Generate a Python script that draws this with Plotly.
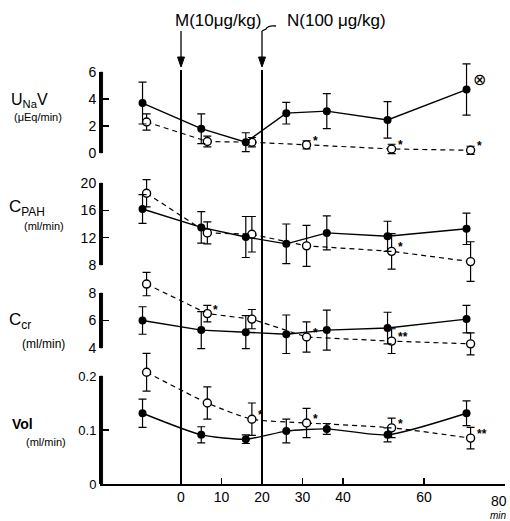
import plotly.graph_objects as go

# ---------------- data ----------------
x_solid = [-9.5, 5, 16, 26, 36, 51, 70.5]
x_open = [-8.5, 6.5, 17.5, 31, 52, 71.5]

unav_solid = [3.7, 1.8, 0.8, 2.95, 3.1, 2.45, 4.7]
unav_solid_err = [1.55, 1.1, 0.7, 0.8, 1.3, 1.35, 1.9]
unav_open = [2.3, 0.85, 0.8, 0.6, 0.3, 0.2]
unav_open_err = [0.6, 0.4, 0.35, 0.3, 0.35, 0.3]
unav_sig = ["", "", "", "*", "*", "*"]

cpah_solid = [16.2, 13.5, 12.1, 11.1, 12.7, 12.2, 13.3]
cpah_solid_err = [2.1, 2.3, 3.0, 2.9, 2.5, 2.2, 2.3]
cpah_open = [18.5, 12.7, 12.5, 10.8, 10.0, 8.5]
cpah_open_err = [2.0, 1.6, 2.6, 3.0, 2.6, 2.9]
cpah_sig = ["", "", "", "", "*", ""]

ccr_solid = [6.0, 5.3, 5.15, 5.0, 5.3, 5.45, 6.1]
ccr_solid_err = [1.0, 1.35, 1.2, 1.4, 1.45, 1.15, 1.0]
ccr_open = [8.65, 6.5, 6.1, 4.8, 4.5, 4.3]
ccr_open_err = [0.85, 0.6, 0.7, 1.1, 0.9, 0.8]
ccr_sig = ["", "*", "", "*", "**", ""]

vol_solid = [0.131, 0.091, 0.083, 0.098, 0.102, 0.091, 0.131]
vol_solid_err = [0.026, 0.015, 0.008, 0.022, 0.01, 0.013, 0.023]
vol_open = [0.207, 0.15, 0.12, 0.113, 0.104, 0.085]
vol_open_err = [0.035, 0.03, 0.03, 0.027, 0.018, 0.02]
vol_sig = ["", "", "*", "*", "*", "**"]

x_ticks = [0, 10, 20, 30, 40, 60, 80]
x_ticktext = ["0", "10", "20", "30", "40", "60", ""]
x_end_label = "80"
x_unit = "min"

dose_times = [0, 20]
dose_labels = ["M(10μg/kg)", "N(100 μg/kg)"]

# ---------------- layout helpers ----------------
W, H = 510, 521
ML, MR, MT, MB = 100, 5, 20, 37
PH = H - MT - MB
PW = W - ML - MR
X_RANGE = [-20, 80]


def py(p):  # pixel y -> paper
    return (H - MB - p) / PH


def px(p):  # pixel x -> paper
    return (p - ML) / PW


def xunits(pix):  # pixel width -> x data units
    return pix * (X_RANGE[1] - X_RANGE[0]) / PW


def rng(vb, vt, pb, pt):
    fb, ft = py(pb), py(pt)
    s = (vt - vb) / (ft - fb)
    return [vb - fb * s, vb + (1 - fb) * s]


def frac(v, r):
    return (v - r[0]) / (r[1] - r[0])


FONT = "Liberation Sans"
panels = [
    ("y4", "y8", unav_solid, unav_solid_err, unav_open, unav_open_err, unav_sig,
     [0, 2, 4, 6], ["0", "2", "4", "6"], rng(0, 6, 153, 72), "linear", 14),
    ("y3", "y7", cpah_solid, cpah_solid_err, cpah_open, cpah_open_err, cpah_sig,
     [8, 12, 16, 20], ["8", "12", "16", "20"], rng(8, 20, 265, 183), "linear", 14),
    ("y2", "y6", ccr_solid, ccr_solid_err, ccr_open, ccr_open_err, ccr_sig,
     [4, 6, 8], ["4", "6", "8"], rng(4, 8, 348, 293), "linear", 14),
    ("y", "y5", vol_solid, vol_solid_err, vol_open, vol_open_err, vol_sig,
     [0, 0.1, 0.2], ["0", "0.1", "0.2"], rng(0, 0.2, 484, 376), "spline", 13),
]

fig = go.Figure()
annotations = []
shapes = []

for ax, dax, ys, yse, yo, yoe, sig, tv, tt, r, lshape, tfs in panels:
    # spine of the panel axis over its tick span (trace + filled strip)
    fig.add_trace(go.Scatter(x=[X_RANGE[0] + xunits(1.5)] * 2, y=[min(tv), max(tv)], yaxis=ax,
                             mode="lines", line=dict(color="black", width=2.5),
                             showlegend=False, hoverinfo="skip"))
    shapes.append(dict(type="rect", xref="paper", yref="paper", layer="above",
                       x0=px(100.2), x1=px(102.6), y0=frac(min(tv), r), y1=frac(max(tv), r),
                       fillcolor="black", line=dict(color="black", width=0.5)))
    fig.add_trace(go.Scatter(
        x=x_open, y=yo, yaxis=ax, mode="lines+markers",
        line=dict(color="black", width=1.2, dash="5px,4px", shape=lshape, smoothing=0.6),
        marker=dict(symbol="circle", size=8, color="white", line=dict(color="black", width=1.4)),
        error_y=dict(type="data", array=yoe, color="black", thickness=1.2, width=4),
        showlegend=False, cliponaxis=False, hoverinfo="skip"))
    fig.add_trace(go.Scatter(
        x=x_solid, y=ys, yaxis=ax, mode="lines+markers",
        line=dict(color="black", width=1.4, shape=lshape, smoothing=0.6),
        marker=dict(symbol="circle", size=8, color="black"),
        error_y=dict(type="data", array=yse, color="black", thickness=1.2, width=4),
        showlegend=False, cliponaxis=False, hoverinfo="skip"))
    fig.add_trace(go.Scatter(x=[], y=[], yaxis=dax, mode="markers",
                             showlegend=False, hoverinfo="skip"))
    for xi, yi, s in zip(x_open, yo, sig):
        if s:
            annotations.append(dict(x=xi, y=yi, xref="x", yref=ax, text="<b>" + s + "</b>",
                                    showarrow=False, xanchor="left", yanchor="middle",
                                    xshift=4, yshift=4,
                                    font=dict(size=12, color="black", family=FONT)))

annotations.append(dict(x=x_solid[-1], y=unav_solid[-1], xref="x", yref="y4", text="⊗",
                        showarrow=False, xanchor="left", yanchor="middle", xshift=4, yshift=10,
                        font=dict(size=16, color="black", family=FONT)))

for t in dose_times:
    shapes.append(dict(type="line", xref="x", yref="paper", x0=t, x1=t, y0=0, y1=py(70),
                       line=dict(color="black", width=2)))
    shapes.append(dict(type="line", xref="x", yref="paper", x0=t, x1=t, y0=py(60), y1=py(31),
                       line=dict(color="black", width=1.3)))
    dx = xunits(3.5)
    shapes.append(dict(type="path", xref="x", yref="paper",
                       path=f"M {t - dx},{py(57)} L {t + dx},{py(57)} L {t},{py(67)} Z",
                       fillcolor="black", line=dict(color="black", width=1)))

annotations.append(dict(x=px(218), y=py(20), xref="paper", yref="paper", text=dose_labels[0],
                        showarrow=False, xanchor="center", yanchor="middle",
                        font=dict(size=17, color="black", family=FONT)))
annotations.append(dict(x=px(336), y=py(20), xref="paper", yref="paper", text=dose_labels[1],
                        showarrow=False, xanchor="center", yanchor="middle",
                        font=dict(size=17, color="black", family=FONT)))
shapes.append(dict(type="path", xref="paper", yref="paper",
                   path=f"M {px(276)},{py(26)} Q {px(268)},{py(25)} {px(266)},{py(29)} L {px(262)},{py(31)}",
                   line=dict(color="black", width=1.3)))

annotations.append(dict(x=px(509), y=py(501), xref="paper", yref="paper", text=x_end_label,
                        showarrow=False, xanchor="right", yanchor="middle",
                        font=dict(size=14, color="black", family=FONT)))
annotations.append(dict(x=px(509), y=py(515), xref="paper", yref="paper",
                        text="<i>" + x_unit + "</i>",
                        showarrow=False, xanchor="right", yanchor="middle",
                        font=dict(size=10, color="black", family=FONT)))

labels = [
    ("U<sub>Na</sub>V", 9, 100, 16), ("(μEq/min)", 12, 117, 11),
    ("C<sub>PAH</sub>", 7, 208, 17), ("(ml/min)", 22, 226, 11),
    ("C<sub>cr</sub>", 7, 321, 17), ("(ml/min)", 20, 344, 12),
    ("<b>Vol</b>", 10, 424, 14), ("(ml/min)", 24, 442, 11),
]
for txt, lx, ly, fs in labels:
    annotations.append(dict(x=px(lx), y=py(ly), xref="paper", yref="paper", text=txt,
                            showarrow=False, xanchor="left", yanchor="middle",
                            font=dict(size=fs, color="black", family=FONT)))

layout = dict(
    width=W, height=H, margin=dict(l=ML, r=MR, t=MT, b=MB),
    paper_bgcolor="white", plot_bgcolor="rgba(0,0,0,0)",
    xaxis=dict(range=X_RANGE, showgrid=False, zeroline=False, showline=True, linecolor="black",
               linewidth=1.6, ticks="inside", ticklen=6, tickwidth=1.4, tickcolor="black",
               tickmode="array", tickvals=x_ticks, ticktext=x_ticktext,
               tickfont=dict(size=14, color="black", family=FONT), automargin=False,
               fixedrange=True),
    annotations=annotations, shapes=shapes, showlegend=False, hovermode=False,
)
for ax, dax, ys, yse, yo, yoe, sig, tv, tt, r, lshape, tfs in panels:
    key = "yaxis" if ax == "y" else "yaxis" + ax[1:]
    d = dict(range=r, domain=[0, 1], anchor="x", visible=False, fixedrange=True)
    if ax != "y":
        d["overlaying"] = "y"
    layout[key] = d
    dkey = "yaxis" + dax[1:]
    layout[dkey] = dict(range=[min(tv), max(tv)],
                        domain=[frac(min(tv), r), frac(max(tv), r)],
                        anchor="free", position=0, side="left", showgrid=False, zeroline=False,
                        showline=True, linecolor="black", linewidth=2,
                        ticks="inside", ticklen=8, tickwidth=1.5, tickcolor="black",
                        tickmode="array", tickvals=tv, ticktext=tt,
                        tickfont=dict(size=tfs, color="black", family=FONT),
                        automargin=False, fixedrange=True)

fig.update_layout(**layout)
fig.write_html("out.html", config={"displayModeBar": False, "staticPlot": True},
               post_script="document.body.style.margin='0';")
